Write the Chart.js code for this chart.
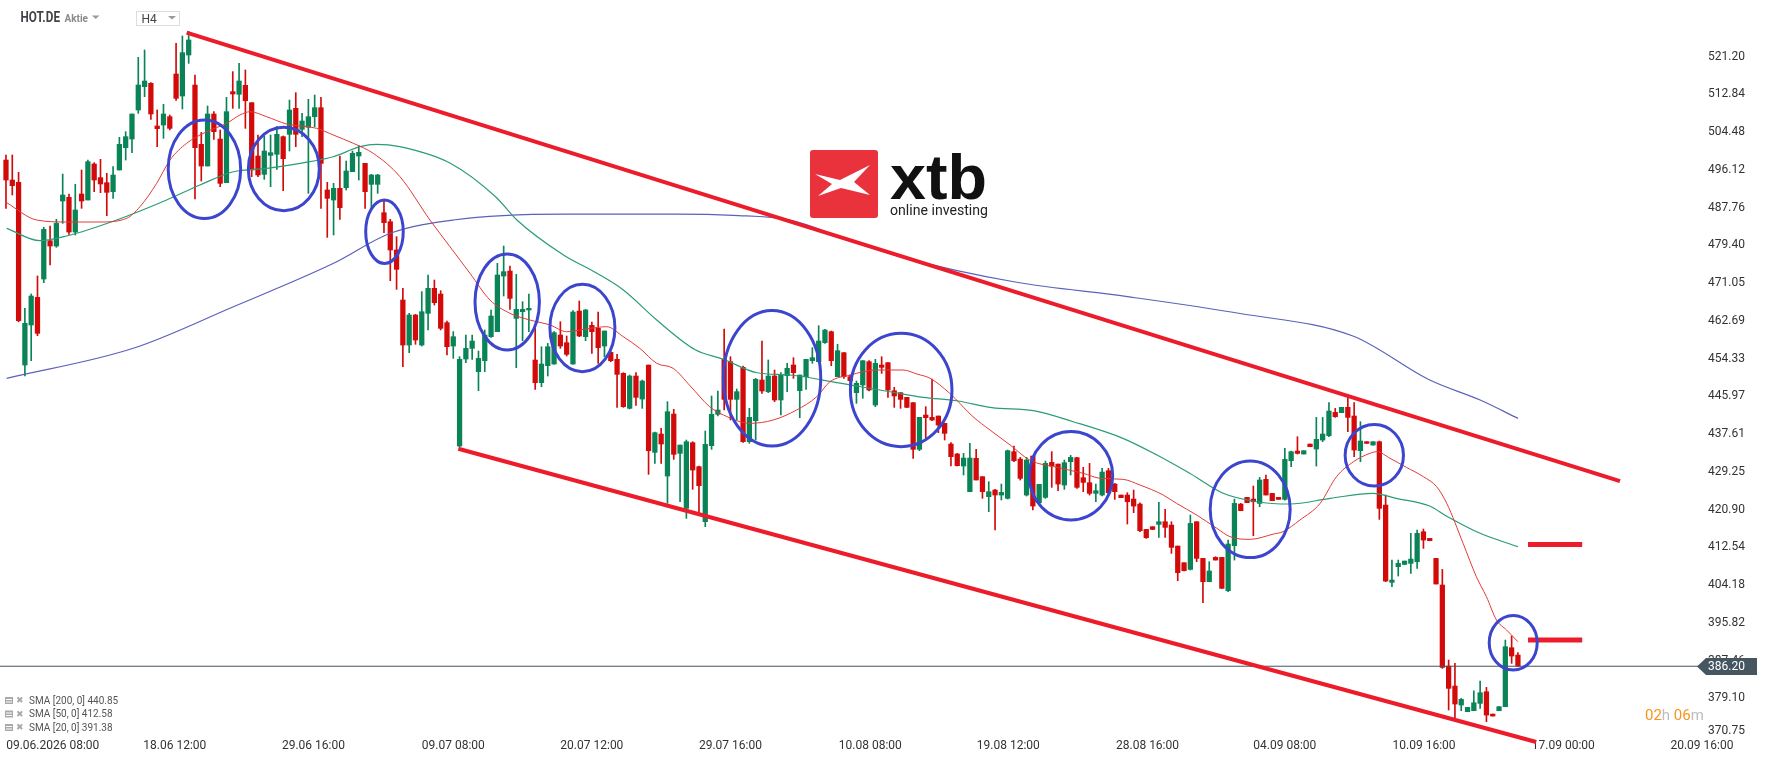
<!DOCTYPE html>
<html><head><meta charset="utf-8">
<script src="https://cdn.jsdelivr.net/npm/chart.js@4.4.1/dist/chart.umd.min.js"></script>
<style>html,body{margin:0;padding:0;background:#fff;overflow:hidden}canvas{display:block}</style>
</head><body>
<canvas id="c" width="1768" height="761"></canvas>
<script>
// ---------- DATA ----------
const SYMBOL = 'HOT.DE';
const INTERVAL = 'H4';
const LAST_PRICE = 386.20;
const OPEN = [498.32,493.89,493.37,452.92,461.78,467.90,471.96,480.45,479.27,489.24,
490.05,482.37,490.79,489.46,497.44,494.41,493.30,491.31,496.11,501.05,
502.97,509.40,514.56,515.30,505.85,506.07,507.92,517.37,512.50,521.58,
514.93,501.79,496.99,508.51,502.97,493.30,513.46,512.87,514.86,511.02,
499.21,495.15,499.35,499.58,503.49,504.01,509.77,505.11,505.56,507.92,
509.91,491.68,489.46,492.05,492.19,495.74,499.21,497.58,492.93,492.93,
486.66,484.66,478.39,
467.31,457.34,463.99,457.34,464.36,469.90,468.64,462.29,457.12,434.97,
454.24,456.60,451.44,453.87,459.19,460.30,472.63,473.73,463.25,464.73,
465.10,454.02,449.00,452.77,453.13,459.56,457.86,453.13,464.87,459.19,
461.70,461.04,457.12,455.72,454.17,451.07,443.32,450.48,445.38,452.91,
433.57,437.63,428.33,442.06,433.35,421.17,435.71,
430.40,418.22,435.05,441.99,454.17,453.66,445.31,452.40,435.94,440.59,
449.59,447.01,450.48,445.17,450.56,452.92,447.23,450.33,453.88,453.66,
457.86,460.30,450.33,455.65,450.33,446.79,448.49,453.66,444.06,452.92,
453.44,447.23,446.79,445.76,444.58,434.24,441.84,441.33,441.62,440.00,
435.42,433.21,430.55,424.86,432.25,428.19,423.76,425.23,
424.12,423.38,433.72,432.09,424.12,432.76,422.42,423.60,431.35,430.98,
426.33,431.50,432.39,427.96,426.85,424.49,424.12,429.51,426.56,424.12,
424.12,423.23,422.12,416.51,417.10,417.62,418.21,417.47,412.82,409.13,
407.65,418.21,410.09,404.92,410.31,410.31,402.93,412.90,422.12,423.60,
423.23,422.27,427.59,424.49,423.60,423.16,431.72,433.86,
433.20,435.41,434.31,436.30,437.26,442.43,442.36,443.54,441.62,433.94,
435.93,435.19,435.93,421.90,404.78,408.25,408.76,408.98,409.35,415.99,
414.52,410.09,404.19,386.24,381.81,377.61,376.13,376.35,377.98,380.56,
375.61,376.35,377.24,390.30,388.68];
const HIGH = [499.43,499.43,495.59,465.47,468.64,472.63,483.41,483.70,485.18,495.22,
490.79,492.93,496.11,498.32,497.73,498.47,495.37,496.85,503.34,504.60,
508.51,521.06,522.69,515.45,509.40,510.65,508.29,524.16,525.79,526.75,
517.15,504.43,510.28,509.03,504.97,512.20,517.89,519.73,518.26,511.02,
503.86,503.64,503.86,505.70,503.64,511.61,513.24,508.66,511.76,512.72,
512.20,493.37,493.15,499.21,498.10,500.31,501.50,497.58,495.15,495.15,
489.46,485.18,481.34,
469.90,464.36,464.14,469.16,472.85,471.74,469.38,462.66,460.30,454.76,
459.56,459.56,456.01,460.67,465.10,475.43,479.27,474.84,472.99,466.94,
468.64,461.55,456.97,457.71,460.30,462.51,459.34,464.95,467.09,465.24,
462.44,464.65,460.45,455.87,455.28,451.22,450.70,451.22,449.59,452.91,
438.07,438.88,444.79,443.10,435.19,436.30,435.93,
430.55,438.30,446.05,447.16,460.89,454.76,447.60,452.70,443.32,449.96,
458.23,454.03,451.81,451.22,453.29,454.54,450.70,454.17,456.76,461.63,
460.82,460.45,457.50,455.65,450.70,449.37,453.88,453.88,454.17,454.76,
453.44,447.97,446.79,445.76,444.58,441.33,443.69,449.82,441.62,440.00,
435.72,433.35,433.35,435.57,434.24,428.19,427.08,425.38,
426.56,434.09,434.97,432.46,432.46,432.76,426.48,431.65,433.72,430.98,
431.87,432.90,432.46,430.25,431.13,426.56,430.03,430.03,426.70,424.12,
424.64,425.23,422.42,416.51,417.10,422.49,420.94,418.21,412.82,409.13,
419.69,418.21,410.09,409.35,410.46,410.31,414.15,423.23,422.27,423.60,
426.11,428.03,428.55,424.49,423.60,434.46,433.86,437.04,
433.94,435.41,441.32,441.32,444.57,443.31,443.54,445.75,444.57,440.36,
435.93,435.93,436.08,424.12,409.72,409.72,409.50,415.63,416.37,416.59,
414.52,410.09,407.65,387.57,386.83,379.08,377.09,380.78,382.92,381.52,
375.61,377.24,392.00,392.89,389.20];
const LOW = [487.62,490.57,462.50,450.48,453.88,459.41,471.15,475.06,478.98,484.29,
481.86,481.71,487.62,489.46,491.31,491.09,486.00,489.83,496.11,498.32,
499.95,508.66,512.35,507.33,501.27,503.12,504.97,511.54,509.62,519.73,
489.68,493.67,496.99,502.90,492.41,493.30,509.77,509.77,505.33,494.63,
494.63,494.04,492.41,496.25,491.53,500.31,501.27,503.49,490.94,505.70,
487.62,481.19,481.71,485.18,491.68,495.74,493.89,487.62,487.25,490.94,
482.22,471.59,469.67,
452.55,455.65,457.50,457.12,460.67,466.20,460.67,455.13,454.39,434.83,
453.43,454.17,447.23,451.44,459.04,460.30,468.20,465.24,452.32,458.30,
460.30,447.53,448.11,450.48,453.13,456.60,454.91,453.13,459.19,458.30,
455.50,453.28,454.76,453.65,443.54,443.54,443.17,443.98,443.32,428.70,
431.13,431.13,422.27,432.02,422.64,418.95,425.38,
419.92,417.11,434.24,441.62,442.95,440.74,440.74,435.79,435.57,436.31,
446.64,446.79,444.80,441.84,447.01,449.96,441.25,447.53,453.29,453.51,
457.72,452.77,450.33,449.96,448.27,444.43,445.54,447.16,443.69,451.07,
445.76,443.54,443.32,443.47,432.25,433.94,436.68,440.59,437.93,436.31,
430.55,430.55,428.55,424.86,427.45,423.39,420.43,416.37,
423.01,423.23,431.50,427.44,423.90,420.80,421.90,423.38,425.82,425.08,
425.37,428.55,425.60,424.86,424.12,422.64,423.90,424.12,423.16,423.53,
417.70,420.21,415.99,414.52,416.44,414.74,414.74,411.20,405.14,407.29,
407.51,409.35,400.27,404.92,409.72,403.45,402.71,409.72,420.65,422.42,
415.11,421.53,424.12,422.86,423.16,423.01,430.40,433.20,
433.20,434.82,430.54,435.93,437.04,441.32,442.36,438.15,432.61,431.50,
435.56,435.19,418.73,404.92,403.82,406.18,408.76,406.77,407.88,412.31,
414.00,404.41,385.73,376.50,374.65,376.35,376.13,376.35,376.87,373.91,
375.17,376.35,377.24,386.83,386.24];
const CLOSE = [493.89,492.64,462.74,462.15,468.20,459.93,482.96,479.27,484.29,490.57,
482.37,487.25,489.24,497.95,493.89,493.01,491.16,495.00,501.79,503.49,
508.51,514.93,515.82,508.51,505.26,508.51,505.33,511.98,522.10,524.90,
501.05,496.99,508.51,504.60,493.15,509.03,512.94,515.82,511.46,496.11,
495.00,500.31,499.95,504.01,498.62,509.40,504.01,506.96,507.92,509.91,
497.58,489.83,492.05,487.77,495.89,499.80,500.02,491.31,495.00,495.00,
484.44,478.39,474.11,
457.34,463.99,458.45,464.73,469.90,466.72,461.04,456.97,459.19,454.17,
456.60,458.23,454.39,459.56,463.77,472.85,473.59,467.68,465.24,465.24,
465.47,449.00,453.13,456.97,460.08,457.12,455.28,464.65,459.34,465.10,
460.30,456.75,460.45,453.87,450.85,443.69,450.48,445.75,449.37,433.94,
437.93,435.42,442.58,433.13,435.19,435.93,429.66,
426.19,435.35,441.99,442.95,445.31,445.31,447.01,435.94,441.33,449.74,
447.16,450.48,445.17,450.70,452.18,451.22,450.70,454.17,454.54,458.23,
460.67,453.88,456.09,450.33,449.45,448.86,453.88,447.38,453.29,452.40,
447.38,446.05,445.31,443.54,434.24,441.33,441.25,440.74,439.63,437.78,
432.62,430.62,432.32,432.32,427.45,424.86,424.86,424.12,
424.71,433.94,431.72,427.81,431.87,421.68,426.48,431.13,430.54,426.56,
431.28,432.46,425.82,426.92,424.49,425.08,429.21,424.64,424.86,423.53,
422.64,421.68,416.22,414.67,416.51,418.21,416.96,412.53,406.92,407.36,
417.84,410.09,404.92,407.29,409.72,403.45,413.27,422.27,420.65,422.42,
422.64,427.44,424.12,422.86,423.16,432.02,433.72,433.35,
433.94,434.82,436.45,437.63,442.72,441.47,443.54,441.32,434.09,436.08,
435.56,435.93,421.17,405.07,405.29,408.98,409.50,409.94,415.63,414.15,
414.00,404.41,385.95,381.30,377.83,378.86,377.09,378.12,380.34,375.39,
375.17,377.24,390.53,388.46,386.24];

// moving averages (at candle positions)
const SMA20_X = [0.11,4.87,9.63,14.92,19.16,21.27,23.92,26.03,28.68,31.86,35.03,37.14,38.73,41.38,44.56,49.32,51.95,55.13,58.3,62.54,67.3,70.48,73.65,76.83,80.0,83.17,86.35,89.0,92.7,95.35,97.98,100.6,103.3,105.9,108.6,111.7,113.9,118.1,121.8,125.5,128.7,130.8,134.0,138.2,142.4,144.6,146.7,149.8,153.5,156.2,159.4,162.5,166.8,171.0,173.7,177.3,180.0,183.7,185.8,189.0,192.2,194.3,197.5,201.2,202.7,205.4,208.6,211.2,213.9,216.5,217.6,219.7,222.3,225.0,227.1,228.7,231.3,233.4,235.0,236.6,238.2,240.0];
const SMA20_V = [488.86,485.03,484.59,484.59,485.41,487.98,493.16,498.32,502.02,504.59,506.45,508.29,509.02,507.91,506.29,505.34,503.86,502.02,499.80,494.62,485.03,479.12,473.23,467.31,464.36,462.88,461.78,460.29,461.04,461.40,459.19,456.62,453.29,452.19,448.3,443.68,441.84,440.0,440.74,442.95,445.9,449.22,450.7,451.81,451.81,450.92,449.97,446.65,441.47,438.52,435.2,431.87,430.25,428.93,427.82,427.6,426.34,424.12,422.28,419.69,416.75,414.89,414.31,415.48,416.0,418.59,422.28,428.18,431.5,433.36,433.72,432.25,430.25,428.18,425.96,422.28,413.42,406.03,401.6,396.44,394.22,391.63];
const SMA50_X = [0.11,5.4,9.63,17.57,25.5,30.8,36.1,41.4,46.7,51.95,56.2,58.8,62.5,70.6,77.8,81.1,88.5,93.8,98.0,103.3,109.4,113.9,119.2,124.4,129.7,135.0,140.3,145.6,150.9,156.5,163.1,169.4,177.3,182.7,187.9,193.2,198.5,203.8,210.2,217.0,220.7,226.0,228.7,234.0,240.0];
const SMA50_V = [483.19,480.45,481.49,485.03,489.46,492.79,495.73,496.48,497.59,499.05,501.27,501.80,501.27,497.55,490.06,485.03,477.28,473.23,469.53,462.88,456.3,454.18,451.21,450.7,449.59,448.27,447.0,445.76,445.0,443.5,442.8,440.36,436.68,432.98,428.93,424.5,422.64,422.13,423.39,424.5,423.39,421.69,419.42,415.64,412.68];
const SMA200_X = [0.11,20.2,36.1,52.0,61.0,71.0,88.6,106.4,115.4,124.3,133.3,142.2,160.2,178.0,195.9,213.8,226.0,234.0,240.0];
const SMA200_V = [449.97,456.62,465.83,475.44,482.09,485.03,486.32,486.32,486.05,485.05,480.82,476.82,471.30,468.07,464.32,459.34,449.59,445.16,441.10];
const SMA_LEGEND = ['SMA [200, 0] 440.85', 'SMA [50, 0] 412.58', 'SMA [20, 0] 391.38'];

// drawn annotations (candle index / price)
const UPPER_X = [28.68, 256.2], UPPER_V = [526.52, 427.22];
const LOWER_X = [71.8, 242.9],  LOWER_V = [434.38, 369.42];
const LEVEL_X = [241.6, 250.2];
const LEVEL_A = 413.14, LEVEL_B = 392.0;
const CIRCLE_I  = [31.5, 44.1, 60.08, 79.56, 91.5, 121.6, 142.1, 169.05, 197.5, 217.2, 239.25];
const CIRCLE_V  = [496.28, 496.33, 482.44, 466.87, 461.11, 449.97, 447.38, 428.38, 420.96, 432.94, 391.41];
const CIRCLE_RI = [5.75, 5.63, 2.98, 5.11, 5.16, 7.73, 8.06, 6.62, 6.35, 4.63, 3.81];
const CIRCLE_RV = [10.9, 9.24, 7.02, 10.63, 9.68, 15.0, 12.56, 9.79, 10.7, 6.82, 6.05];

// axes
const X_TICK_POS = [7.43, 26.8, 48.8, 71.0, 93.0, 115.0, 137.2, 159.1, 181.2, 203.0, 225.1, 247.2, 269.2];
const X_TICK_LABELS = ['09.06.2026 08:00','18.06 12:00','29.06 16:00','09.07 08:00','20.07 12:00','29.07 16:00','10.08 08:00','19.08 12:00','28.08 16:00','04.09 08:00','10.09 16:00','17.09 00:00','20.09 16:00'];
const Y_TICK_LABELS = ['521.20','512.84','504.48','496.12','487.76','479.40','471.05','462.69','454.33','445.97','437.61','429.25','420.90','412.54','404.18','395.82','387.46','379.10','370.75'];
const X_MIN = -0.95, X_MAX = 268.9;
const Y_MIN = 370.53, Y_MAX = 533.76;

// ---------- STYLE ----------
const GREEN = '#0a8456', RED = '#d20a0a';
const FONT = 'Roboto, "Liberation Sans", sans-serif';

const idx = OPEN.map((_, i) => i);
const candleColors = idx.map(i => CLOSE[i] >= OPEN[i] ? GREEN : RED);
const pts = (xs, vs) => xs.map((x, k) => ({x, y: vs[k]}));

const lineDs = (data, color, width, order, extra) => Object.assign({
  type: 'line', data, borderColor: color, borderWidth: width, pointRadius: 0,
  fill: false, order, tension: 0
}, extra || {});

const overlay = {
  id: 'overlay',
  afterDatasetsDraw(chart) {
    const ctx = chart.ctx, xs = chart.scales.x, ys = chart.scales.y;
    ctx.save();
    ctx.strokeStyle = '#3c45cd';
    ctx.lineWidth = 3;
    CIRCLE_I.forEach((ci, k) => {
      const cx = xs.getPixelForValue(ci), cy = ys.getPixelForValue(CIRCLE_V[k]);
      const rx = Math.abs(xs.getPixelForValue(ci + CIRCLE_RI[k]) - cx);
      const ry = Math.abs(ys.getPixelForValue(CIRCLE_V[k] + CIRCLE_RV[k]) - cy);
      ctx.beginPath(); ctx.ellipse(cx, cy, rx, ry, 0, 0, Math.PI * 2); ctx.stroke();
    });
    ctx.restore();
  },
  afterDraw(chart) {
    const ctx = chart.ctx, ys = chart.scales.y, ca = chart.chartArea;
    ctx.save();
    // price tag
    const py = Math.round(ys.getPixelForValue(LAST_PRICE)) + 0.5;
    ctx.fillStyle = '#465661';
    ctx.beginPath();
    ctx.moveTo(ca.right - 3, py);
    ctx.lineTo(ca.right + 6, py - 8.5);
    ctx.lineTo(1757, py - 8.5);
    ctx.lineTo(1757, py + 8.5);
    ctx.lineTo(ca.right + 6, py + 8.5);
    ctx.closePath(); ctx.fill();
    ctx.fillStyle = '#fff';
    ctx.font = '12px ' + FONT;
    ctx.textBaseline = 'middle'; ctx.textAlign = 'left';
    ctx.fillText(LAST_PRICE.toFixed(2), 1708, py + 0.5);
    // lowest y label (raised by platform)
    ctx.fillStyle = '#333';
    ctx.fillText(Y_TICK_LABELS[Y_TICK_LABELS.length - 1], 1708, 731);

    // countdown
    ctx.font = '15px ' + FONT;
    let x = 1645;
    [['02', '#f7941d'], ['h ', '#bdbdbd'], ['06', '#f7941d'], ['m', '#bdbdbd']].forEach(([t, c]) => {
      ctx.fillStyle = c; ctx.fillText(t, x, 716); x += ctx.measureText(t).width;
    });

    // SMA legend
    SMA_LEGEND.forEach((t, k) => {
      const y = 701 + k * 13.5;
      ctx.fillStyle = '#a9a9a9';
      ctx.fillRect(5, y - 4, 8, 7);
      ctx.fillStyle = '#fff';
      ctx.fillRect(6, y - 2, 6, 1); ctx.fillRect(6, y + 0.5, 6, 1);
      ctx.fillStyle = '#a9a9a9';
      ctx.font = '9px "DejaVu Sans"';
      ctx.fillText('\u2716', 16, y);
      ctx.font = '10px ' + FONT;
      ctx.fillStyle = '#555';
      ctx.fillText(t, 29, y);
    });

    // header
    ctx.fillStyle = '#3f4246';
    ctx.font = 'bold 14px ' + FONT;
    const w = ctx.measureText(SYMBOL).width;
    ctx.save(); ctx.translate(20.5, 18.5); ctx.scale(39.5 / w, 1);
    ctx.fillText(SYMBOL, 0, 0); ctx.restore();
    ctx.fillStyle = '#8a8a8a';
    ctx.font = 'bold 10px ' + FONT;
    ctx.fillText('Aktie', 64.5, 19);
    ctx.fillStyle = '#9a9a9a';
    ctx.beginPath(); ctx.moveTo(92, 15.5); ctx.lineTo(99.5, 15.5); ctx.lineTo(95.7, 19); ctx.closePath(); ctx.fill();
    ctx.strokeStyle = '#dcdcdc'; ctx.lineWidth = 1;
    ctx.strokeRect(136.5, 11.5, 43, 14);
    ctx.fillStyle = '#444';
    ctx.font = '12px ' + FONT;
    ctx.fillText(INTERVAL, 141.5, 19.5);
    ctx.fillStyle = '#9a9a9a';
    ctx.beginPath(); ctx.moveTo(168, 16); ctx.lineTo(176, 16); ctx.lineTo(172, 19.5); ctx.closePath(); ctx.fill();

    // logo
    const lx = 810, ly = 150, s = 68;
    ctx.fillStyle = '#ea323d';
    ctx.beginPath();
    if (ctx.roundRect) ctx.roundRect(lx, ly, s, s, 3); else ctx.rect(lx, ly, s, s);
    ctx.fill();
    ctx.fillStyle = '#fff';
    ctx.beginPath();
    const P = [[5,24],[30,30],[60,15],[44,32],[60,45],[31,38],[8,46],[22,34]];
    P.forEach(([px, qy], k) => k ? ctx.lineTo(lx + px, ly + qy) : ctx.moveTo(lx + px, ly + qy));
    ctx.closePath(); ctx.fill();
    ctx.fillStyle = '#111';
    ctx.textBaseline = 'alphabetic';
    ctx.font = 'bold 63px "Liberation Sans", Arial, sans-serif';
    const lw = ctx.measureText('xtb').width;
    ctx.save(); ctx.translate(890, 199); ctx.scale(97 / lw, 1);
    ctx.fillText('xtb', 0, 0); ctx.restore();
    ctx.font = '14px ' + FONT;
    ctx.fillStyle = '#222';
    const ow = ctx.measureText('online investing').width;
    ctx.save(); ctx.translate(890, 214.5); ctx.scale(98 / ow, 1);
    ctx.fillText('online investing', 0, 0); ctx.restore();
    ctx.restore();
  }
};

new Chart(document.getElementById('c'), {
  type: 'bar',
  data: {
    datasets: [
      lineDs(pts(UPPER_X, UPPER_V), '#ec1c2a', 4, 0, {clip: false}),
      lineDs(pts(LOWER_X, LOWER_V), '#ec1c2a', 4, 0, {clip: false}),
      lineDs(pts(LEVEL_X, [LEVEL_A, LEVEL_A]), '#ec1c2a', 5, 0),
      lineDs(pts(LEVEL_X, [LEVEL_B, LEVEL_B]), '#ec1c2a', 5, 0),
      lineDs(pts(SMA20_X, SMA20_V), '#e23a36', 1, 2, {cubicInterpolationMode: 'monotone'}),
      lineDs(pts(SMA50_X, SMA50_V), '#2a9c78', 1.2, 2, {cubicInterpolationMode: 'monotone'}),
      lineDs(pts(SMA200_X, SMA200_V), '#5a62b9', 1.2, 2, {cubicInterpolationMode: 'monotone'}),
      lineDs(pts([X_MIN, X_MAX], [LAST_PRICE, LAST_PRICE]), '#46535e', 1, 3),
      {type: 'bar', data: idx.map(i => ({x: i, y: [OPEN[i], CLOSE[i]]})), backgroundColor: candleColors,
       barThickness: 4.6, minBarLength: 1, grouped: false, order: 5, borderWidth: 0},
      {type: 'bar', data: idx.map(i => ({x: i, y: [LOW[i], HIGH[i]]})), backgroundColor: candleColors,
       barThickness: 1, minBarLength: 1, grouped: false, order: 6, borderWidth: 0}
    ]
  },
  options: {
    responsive: false, animation: false, devicePixelRatio: 1,
    layout: {padding: 0},
    plugins: {legend: {display: false}, tooltip: {enabled: false}},
    scales: {
      x: {
        type: 'linear', min: X_MIN, max: X_MAX, offset: false,
        grid: {display: false, drawTicks: false}, border: {display: false},
        afterBuildTicks: s => { s.ticks = X_TICK_POS.map(v => ({value: v})); },
        afterFit: s => { s.height = 24; s.paddingLeft = 0; s.paddingRight = 0; },
        ticks: {autoSkip: false, maxRotation: 0, padding: 2, color: '#333',
                font: {family: FONT, size: 12}, callback: (v, i) => X_TICK_LABELS[i]}
      },
      y: {
        position: 'right', min: Y_MIN, max: Y_MAX,
        grid: {display: false, drawTicks: false}, border: {display: false},
        afterBuildTicks: s => { s.ticks = Y_TICK_LABELS.slice(0, -1).map(t => ({value: parseFloat(t)})); },
        afterFit: s => { s.width = 68; s.paddingTop = 0; s.paddingBottom = 0; },
        ticks: {padding: 8, color: '#333', font: {family: FONT, size: 12},
                callback: (v, i) => Y_TICK_LABELS[i]}
      }
    }
  },
  plugins: [overlay]
});
</script>
</body></html>
